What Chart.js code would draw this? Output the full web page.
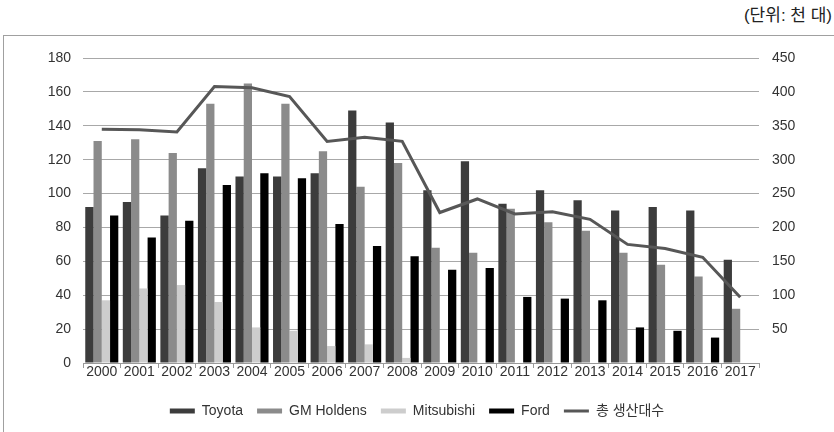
<!DOCTYPE html>
<html lang="ko">
<head>
<meta charset="utf-8">
<script src="https://cdn.jsdelivr.net/npm/chart.js@4/dist/chart.umd.min.js"></script>
<style>
    html, body {
        margin: 0;
        padding: 0;
        width: 834px;
        height: 432px;
        overflow: hidden;
        background: #ffffff;
        font-family: 'Liberation Sans', 'Noto Sans CJK KR', sans-serif;
    }
    #unit_label {
        position: absolute;
        right: 2px;
        top: 5px;
        font-size: 17px;
        line-height: 22px;
        color: #222222;
    }
    #frame {
        position: absolute;
        left: 3px;
        top: 35px;
        width: 900px;
        height: 500px;
        border-top: 1px solid #a0a0a0;
        border-left: 1px solid #a0a0a0;
    }
    #chart {
        position: absolute;
        left: 0;
        top: 0;
    }
</style>
</head>
<body>
<div id="unit_label">(단위: 천 대)</div>
<div id="frame"></div>
<canvas id="chart" width="834" height="432"></canvas>

<script>
const years = ["2000", "2001", "2002", "2003", "2004", "2005", "2006", "2007", "2008",
               "2009", "2010", "2011", "2012", "2013", "2014", "2015", "2016", "2017"];

// 업체별 생산 (천 대, 왼쪽 축)
const toyota     = [92, 95, 87, 115, 110, 110, 112, 149, 142, 102, 119, 94, 102, 96, 90, 92, 90, 61];
const gmHoldens  = [131, 132, 124, 153, 165, 153, 125, 104, 118, 68, 65, 91, 83, 78, 65, 58, 51, 32];
const mitsubishi = [37, 44, 46, 36, 21, 19, 10, 11, 3, 0, 0, 0, 0, 0, 0, 0, 0, 0];
const ford       = [87, 74, 84, 105, 112, 109, 82, 69, 63, 55, 56, 39, 38, 37, 21, 19, 15, 0];

// 총 생산대수 (천 대, 오른쪽 축)
const total = [345, 344, 341, 408, 406, 393, 327, 333, 327, 222, 242, 220, 223, 212, 175, 169, 156, 97];

const leftTicks = { min: 0, max: 180, step: 20 };
const rightTicks = { min: 0, max: 450, step: 50 };

const fontFamily = "'Liberation Sans', 'Noto Sans CJK KR', sans-serif";
const textColor = "#333333";

function barSet(label, data, color) {
    return {
        type: "bar",
        label: label,
        data: data,
        backgroundColor: color,
        borderWidth: 0,
        categoryPercentage: 0.88,
        barPercentage: 1.0,
        yAxisID: "y",
        order: 1
    };
}

const ctx = document.getElementById("chart");

new Chart(ctx, {
    data: {
        labels: years,
        datasets: [
            barSet("Toyota", toyota, "#3c3c3c"),
            barSet("GM Holdens", gmHoldens, "#8b8b8b"),
            barSet("Mitsubishi", mitsubishi, "#cdcdcd"),
            barSet("Ford", ford, "#000000"),
            {
                type: "line",
                label: "총 생산대수",
                data: total,
                borderColor: "#575757",
                backgroundColor: "#575757",
                borderWidth: 3,
                pointRadius: 0,
                tension: 0,
                yAxisID: "y1",
                order: 0
            }
        ]
    },
    options: {
        responsive: false,
        devicePixelRatio: 1,
        animation: false,
        layout: {
            padding: { top: 58, left: 0, right: 0, bottom: 4 }
        },
        plugins: {
            tooltip: { enabled: false },
            legend: {
                position: "bottom",
                labels: {
                    usePointStyle: true,
                    pointStyleWidth: 25,
                    boxHeight: 5,
                    padding: 14,
                    color: textColor,
                    font: { family: fontFamily, size: 14 },
                    sort: (a, b) => a.datasetIndex - b.datasetIndex,
                    generateLabels: (chart) => {
                        const items = Chart.defaults.plugins.legend.labels.generateLabels(chart);
                        items.forEach((item) => {
                            item.pointStyle = item.datasetIndex === 4 ? "line" : "rect";
                        });
                        return items;
                    }
                }
            }
        },
        scales: {
            x: {
                offset: true,
                afterFit: (scale) => { scale.height = 27; },
                grid: {
                    display: true,
                    offset: true,
                    drawOnChartArea: false,
                    drawTicks: true,
                    tickLength: 5,
                    color: "#999999"
                },
                border: { display: true, color: "#999999" },
                ticks: {
                    color: textColor,
                    font: { family: fontFamily, size: 14 },
                    padding: -4,
                    maxRotation: 0,
                    autoSkip: false
                }
            },
            y: {
                position: "left",
                min: leftTicks.min,
                max: leftTicks.max,
                afterFit: (scale) => { scale.width = 83; },
                grid: { color: "#a8a8a8", drawTicks: false },
                border: { display: false },
                ticks: {
                    stepSize: leftTicks.step,
                    color: textColor,
                    font: { family: fontFamily, size: 14 },
                    padding: 12
                }
            },
            y1: {
                position: "right",
                min: rightTicks.min,
                max: rightTicks.max,
                afterFit: (scale) => { scale.width = 75; },
                grid: { drawOnChartArea: false, drawTicks: false },
                border: { display: false },
                ticks: {
                    stepSize: rightTicks.step,
                    color: textColor,
                    font: { family: fontFamily, size: 14 },
                    padding: 13,
                    callback: (value) => value === 0 ? "" : value
                }
            }
        }
    }
});
</script>
</body>
</html>
